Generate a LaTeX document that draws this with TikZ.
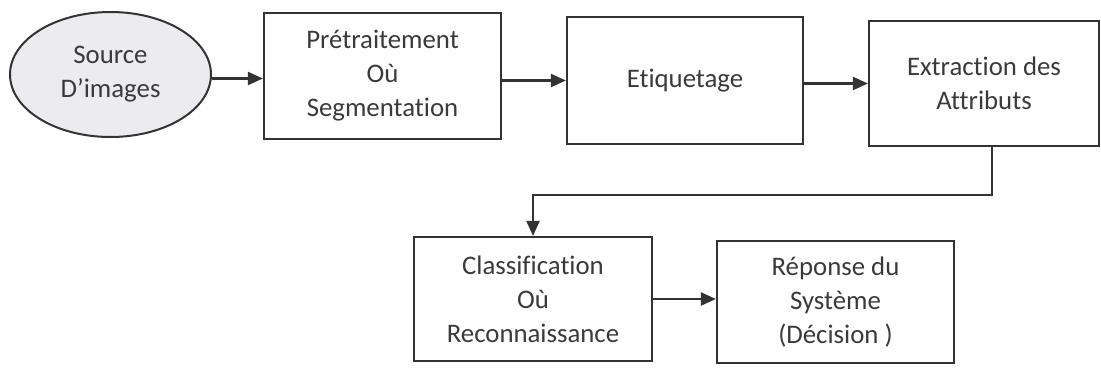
\documentclass[tikz,border=0pt]{standalone}
\usepackage{fontspec}
\setmainfont{Carlito}[Ligatures=NoCommon]
\usetikzlibrary{arrows.meta,shapes.geometric}
\definecolor{ink}{HTML}{333333}
\definecolor{txt}{HTML}{3A3A3A}
\definecolor{efill}{HTML}{ECEBEF}
\begin{document}
\begin{tikzpicture}[x=1pt,y=-1pt,
  box/.style={draw=ink,line width=2.2pt,rectangle,inner sep=0pt,align=center,
    text=txt,font=\fontsize{26.8}{34}\selectfont},
  oval/.style={draw=ink,line width=2pt,ellipse,inner sep=0pt,fill=efill,align=center,
    text=txt,font=\fontsize{26.8}{34}\selectfont},
  arr/.style={draw=ink,line width=2.2pt,-{Triangle[length=15pt,width=13pt]}}]
\useasboundingbox (0,0) rectangle (1101,367);
\node[oval,minimum width=201pt,minimum height=125pt] (e) at (110.5,74.5) {Source\\D’images};
\node[box,minimum width=237pt,minimum height=126pt] (b1) at (382.5,76) {Prétraitement\\Où\\Segmentation};
\node[box,minimum width=236pt,minimum height=127pt] (b2) at (685,80.5) {Etiquetage};
\node[box,minimum width=230pt,minimum height=125pt] (b3) at (984,83.5) {Extraction des\\Attributs};
\node[box,minimum width=238pt,minimum height=124pt] (b4) at (533,299) {Classification\\Où\\Reconnaissance};
\node[box,minimum width=237pt,minimum height=122pt] (b5) at (835.5,302) {Réponse du\\Système\\(Décision )};
\coordinate (turn) at (992,195);
\draw[arr] ([yshift=-4pt]e.east) -- ([yshift=-4pt]e.east -| b1.west);
\draw[arr] (b1.east |- b2.west) -- (b2.west);
\draw[arr] (b2.east |- b3.west) -- (b3.west);
\draw[arr] (b3.south -| turn) -- (turn) -| (b4.north);
\draw[arr] (b4.east) -- (b4.east -| b5.west);
\end{tikzpicture}
\end{document}
